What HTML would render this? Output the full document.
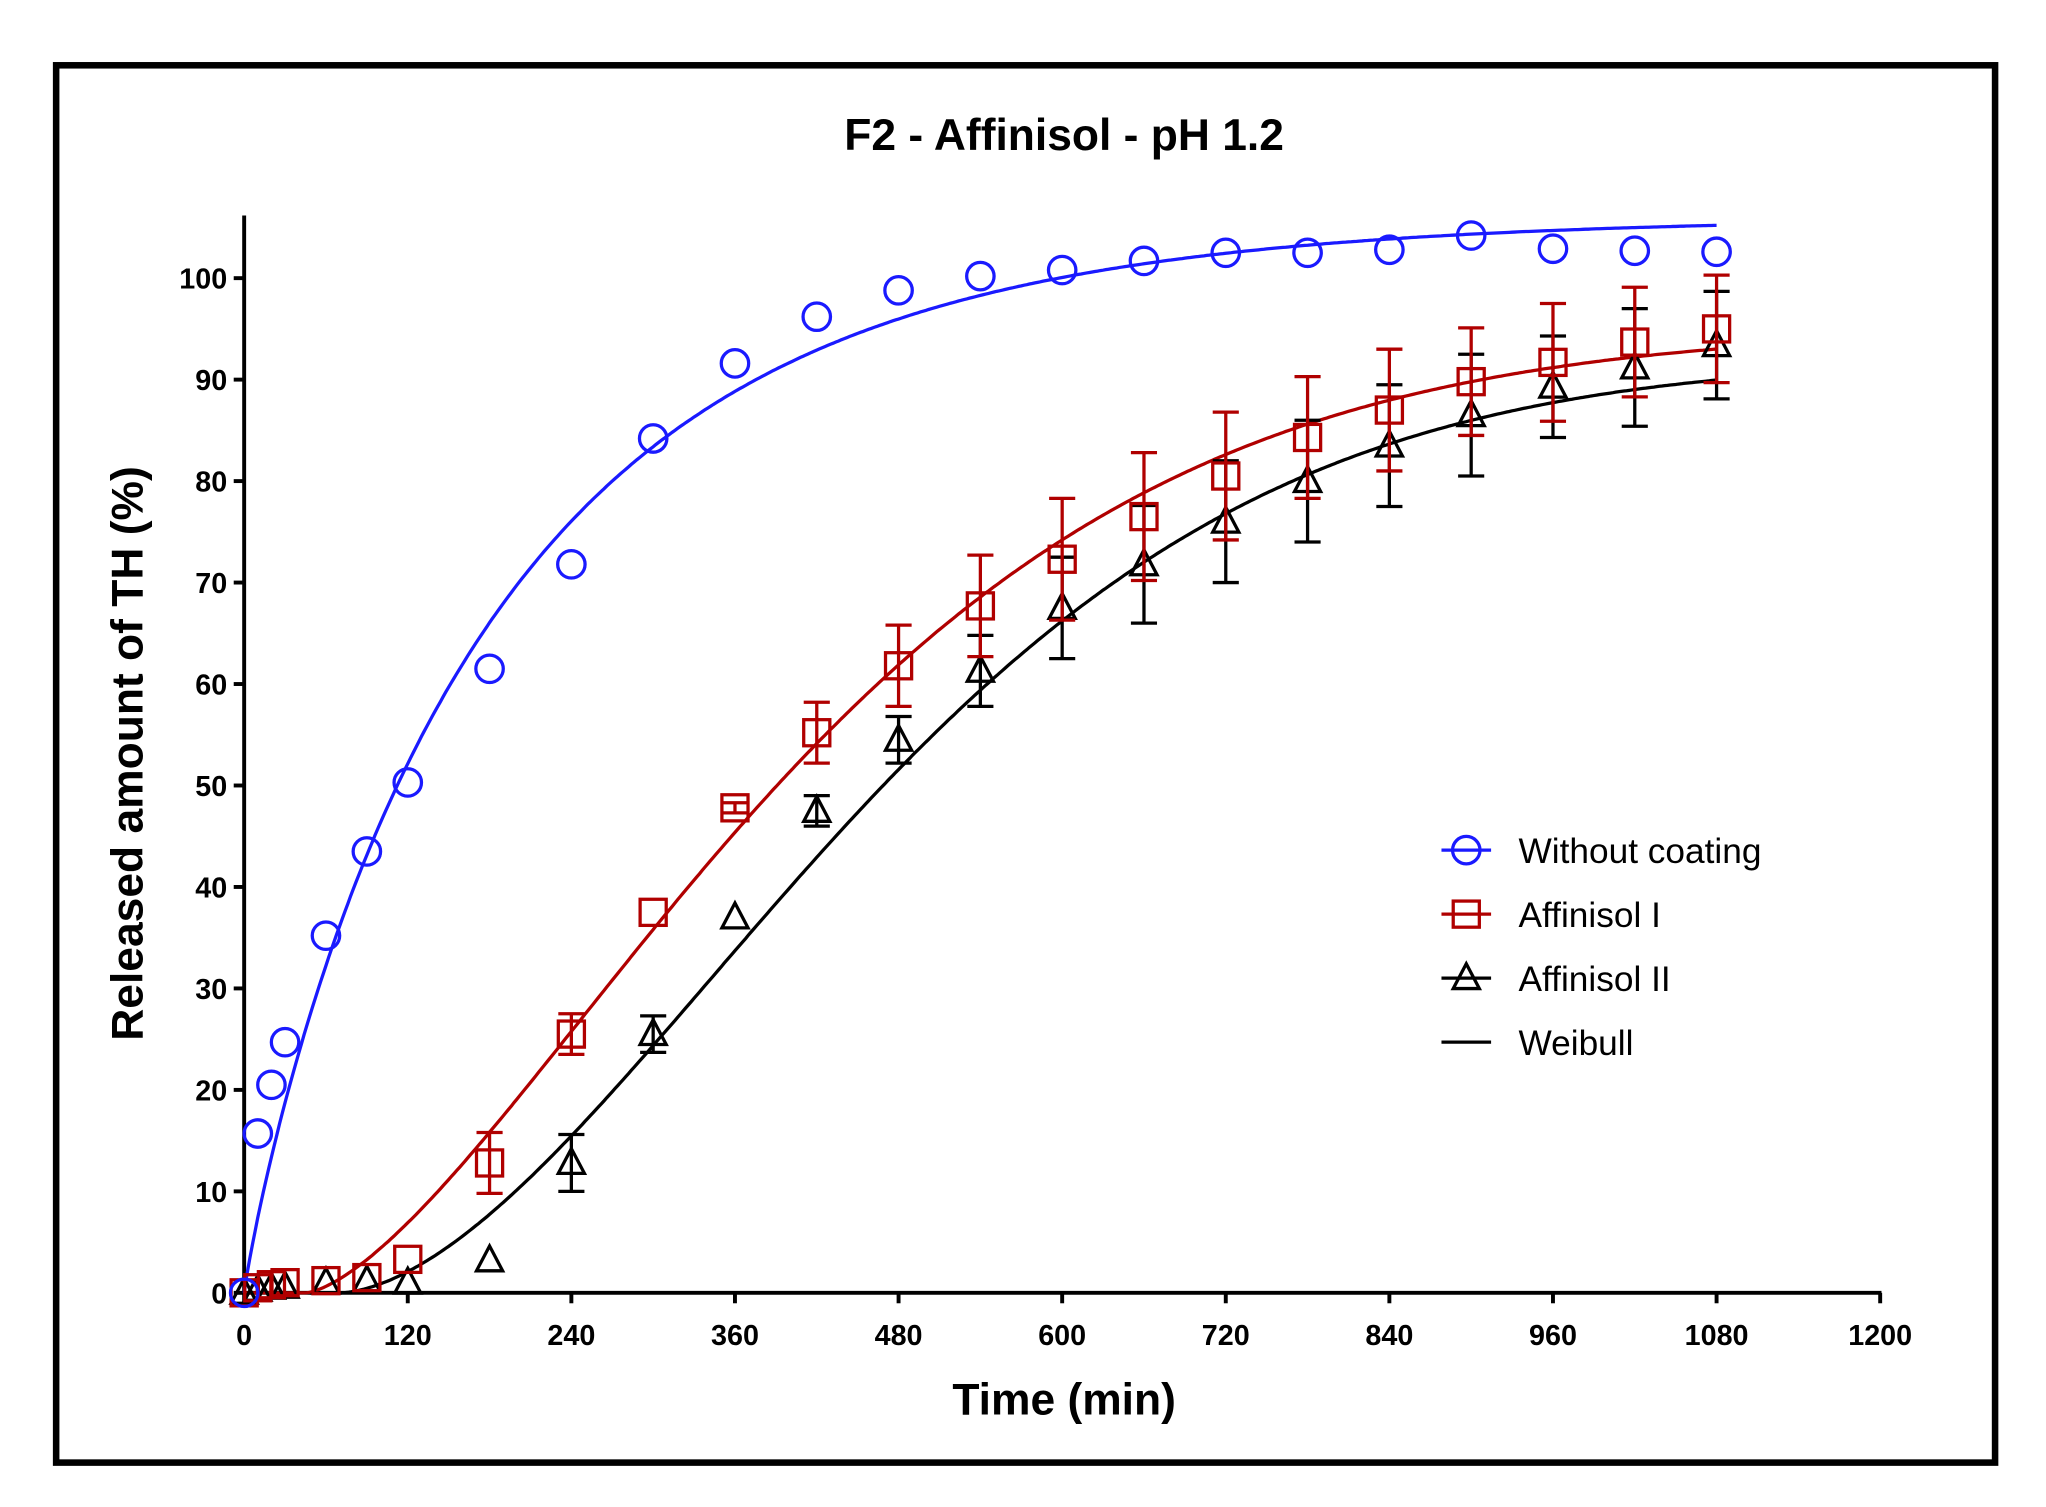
<!DOCTYPE html>
<html><head><meta charset="utf-8"><style>
html,body{margin:0;padding:0;background:#fff;}
svg{display:block;}
text{font-family:"Liberation Sans",sans-serif;}
</style></head><body>
<svg id="s" width="2046" height="1507" viewBox="0 0 1567 1154" preserveAspectRatio="none" xmlns="http://www.w3.org/2000/svg">
<rect x="0" y="0" width="1567" height="1154" fill="#fff"/>
<rect x="43" y="50" width="1485" height="1070" fill="none" stroke="#000" stroke-width="5"/>
<text x="815" y="115" text-anchor="middle" font-size="34" font-weight="bold">F2 - Affinisol - pH 1.2</text>
<text x="815" y="1083" text-anchor="middle" font-size="34" font-weight="bold">Time (min)</text>
<text transform="translate(109,577) rotate(-90)" text-anchor="middle" font-size="34" font-weight="bold">Released amount of TH (%)</text>
<g id="g"></g>
</svg>
<script>
var X=function(t){return 187+t*1253/1200;}, Y=function(v){return 990-v*7.77;};
var h='';
h+='<line x1="187" y1="165" x2="187" y2="991.5" stroke="#000" stroke-width="3"/>';
h+='<line x1="185.5" y1="990" x2="1441" y2="990" stroke="#000" stroke-width="3"/>';
for(var v=0;v<=100;v+=10){h+='<line x1="179" x2="187" y1="'+Y(v)+'" y2="'+Y(v)+'" stroke="#000" stroke-width="3"/><text x="174" y="'+(Y(v)+8)+'" text-anchor="end" font-size="22" font-weight="bold">'+v+'</text>';}
for(var t=0;t<=1200;t+=120){h+='<line x1="'+X(t)+'" x2="'+X(t)+'" y1="990" y2="998" stroke="#000" stroke-width="3"/><text x="'+X(t)+'" y="1030" text-anchor="middle" font-size="22" font-weight="bold">'+t+'</text>';}
function curve(f,c){var p='';for(var t=0;t<=1080;t+=2){p+=(t?'L':'M')+X(t).toFixed(1)+','+Y(f(t)).toFixed(1);}return '<path d="'+p+'" fill="none" stroke="'+c+'" stroke-width="2.5"/>';}
function wb(A,l,a,b){return function(t){return t<=l?0:A*(1-Math.exp(-Math.pow((t-l)/a,b)));};}
var blue=[[0,0],[10,15.7],[20,20.5],[30,24.7],[60,35.2],[90,43.5],[120,50.3],[180,61.5],[240,71.8],[300,84.2],[360,91.6],[420,96.2],[480,98.8],[540,100.2],[600,100.8],[660,101.7],[720,102.5],[780,102.5],[840,102.8],[900,104.2],[960,102.9],[1020,102.7],[1080,102.6]];
var red=[[0,0,0],[10,0.5,0],[20,0.8,0],[30,1,0],[60,1.2,0],[90,1.5,0],[120,3.3,0],[180,12.8,3],[240,25.5,2],[300,37.5,0],[360,47.8,0.5],[420,55.2,3],[480,61.8,4],[540,67.7,5],[600,72.3,6],[660,76.5,6.3],[720,80.5,6.3],[780,84.3,6],[840,87,6],[900,89.8,5.3],[960,91.7,5.8],[1020,93.7,5.4],[1080,95,5.3]];
var blk=[[0,0,0],[10,0.3,0],[20,0.5,0],[30,0.6,0],[60,1,0],[90,1.2,0],[120,1,0],[180,3.2,0],[240,12.8,2.8],[300,25.5,1.8],[360,37,0],[420,47.5,1.5],[480,54.5,2.3],[540,61.3,3.5],[600,67.5,5],[660,71.8,5.8],[720,76,6],[780,80,6],[840,83.5,6],[900,86.5,6],[960,89.3,5],[1020,91.2,5.8],[1080,93.4,5.3]];
function err(d,c){var s='';d.forEach(function(p){if(p[2]>0){var x=X(p[0]),y1=Y(p[1]+p[2]),y2=Y(p[1]-p[2]);s+='<path d="M'+x+','+y1+'V'+y2+'M'+(x-10)+','+y1+'H'+(x+10)+'M'+(x-10)+','+y2+'H'+(x+10)+'" stroke="'+c+'" stroke-width="2.5" fill="none"/>';}});return s;}
function tri(x,y,c){return '<path d="M'+x+','+(y-11)+'L'+(x+10)+','+(y+8)+'L'+(x-10)+','+(y+8)+'Z" fill="none" stroke="'+c+'" stroke-width="2.5"/>';}
function sq(x,y,c){return '<rect x="'+(x-10)+'" y="'+(y-10)+'" width="20" height="20" fill="none" stroke="'+c+'" stroke-width="2.5"/>';}
function circ(x,y,c){return '<circle cx="'+x+'" cy="'+y+'" r="10.5" fill="none" stroke="'+c+'" stroke-width="2.5"/>';}
h+=curve(wb(92,70,460,1.7),'#000');
h+=curve(wb(95,45,420,1.5),'#b00000');
h+=curve(wb(106,0,185,0.9),'#1a1aff');
h+=err(blk,'#000');blk.forEach(function(p){h+=tri(X(p[0]),Y(p[1]),'#000');});
h+=err(red,'#b00000');red.forEach(function(p){h+=sq(X(p[0]),Y(p[1]),'#b00000');});
blue.forEach(function(p){h+=circ(X(p[0]),Y(p[1]),'#1a1aff');});
var L=[['Without coating','#1a1aff',circ],['Affinisol I','#b00000',sq],['Affinisol II','#000',tri],['Weibull','#000',null]];
L.forEach(function(l,i){var y=651+i*49;h+='<line x1="1104" x2="1142" y1="'+y+'" y2="'+y+'" stroke="'+l[1]+'" stroke-width="2.5"/>';if(l[2])h+=l[2](1123,y,l[1]);h+='<text x="1163" y="'+(y+10)+'" font-size="27">'+l[0]+'</text>';});
document.getElementById('g').innerHTML=h;
</script>
</body></html>
